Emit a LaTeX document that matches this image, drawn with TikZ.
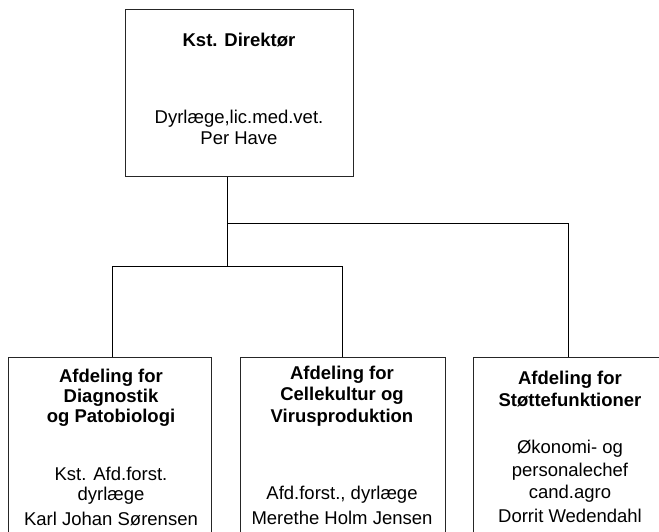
\documentclass[tikz,border=0pt]{standalone}
\usepackage{fontspec}
\setmainfont{Liberation Sans}
\begin{document}
\begin{tikzpicture}[x=1pt,y=-1pt,
  box/.style={draw=black!85, line width=0.9pt, rectangle, inner sep=0pt, anchor=north west},
  conn/.style={draw=black, line width=0.8pt},
  hd/.style={font=\fontsize{18.5pt}{21pt}\selectfont\bfseries, anchor=base, inner sep=0pt},
  tx/.style={font=\fontsize{18.5pt}{21pt}\selectfont, anchor=base, inner sep=0pt}]
\useasboundingbox (0,0) rectangle (659,532);
\clip (0,0) rectangle (659,532);
% boxes
\node[box, minimum width=228pt, minimum height=167pt] (top) at (125,9) {};
\node[box, minimum width=203pt, minimum height=200pt] (b1) at (8,357) {};
\node[box, minimum width=205pt, minimum height=200pt] (b2) at (240,357) {};
\node[box, minimum width=195pt, minimum height=200pt] (b3) at (473,357) {};
% junctions
\coordinate (j1) at (227,223);
\coordinate (j2) at (227,266);
\coordinate (r1) at (568,223);
\coordinate (s1) at (112,266);
\coordinate (s2) at (342,266);
% connectors
\draw[conn] (j1 |- top.south) -- (j2);
\draw[conn] (j1) -- (r1) -- (r1 |- b3.north);
\draw[conn] (s1) -- (s2);
\draw[conn] (s1) -- (s1 |- b1.north);
\draw[conn] (s2) -- (s2 |- b2.north);
% top box text
\node[hd] (t1) at (239,47) {Kst. Direktør};
\node[tx] (t2) at (239,124) {Dyrlæge,lic.med.vet.};
\node[tx] (t3) at (239,145) {Per Have};
% box 1
\node[hd] (a1) at (111,382) {Afdeling for};
\node[hd] (a2) at (111,402) {Diagnostik};
\node[hd] (a3) at (111,422) {og Patobiologi};
\node[tx] (a4) at (111,480) {Kst. Afd.forst.};
\node[tx] (a5) at (111,500) {dyrlæge};
\node[tx] (a6) at (111,525) {Karl Johan Sørensen};
% box 2
\node[hd] (c1) at (342,379) {Afdeling for};
\node[hd] (c2) at (342,400) {Cellekultur og};
\node[hd] (c3) at (342,422) {Virusproduktion};
\node[tx] (c4) at (342,499) {Afd.forst., dyrlæge};
\node[tx] (c5) at (342,524) {Merethe Holm Jensen};
% box 3
\node[hd] (d1) at (570,384) {Afdeling for};
\node[hd] (d2) at (570,406) {Støttefunktioner};
\node[tx] (d3) at (570,453) {Økonomi- og};
\node[tx] (d4) at (570,476) {personalechef};
\node[tx] (d5) at (570,498) {cand.agro};
\node[tx] (d6) at (570,522) {Dorrit Wedendahl};
\end{tikzpicture}
\end{document}
